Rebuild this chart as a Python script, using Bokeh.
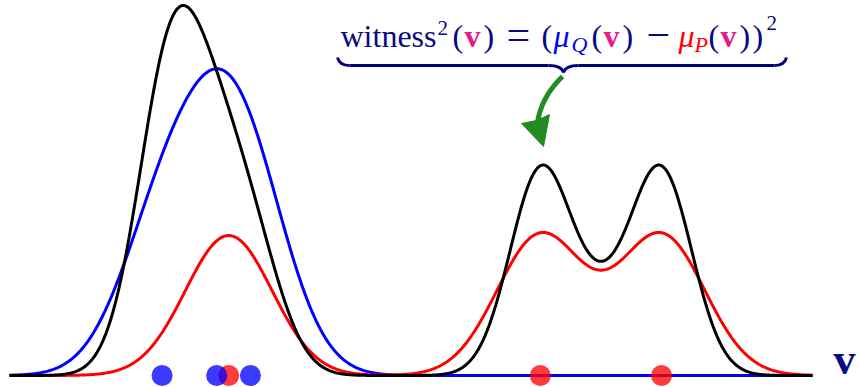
import numpy as np
from bokeh.plotting import figure
from bokeh.models import Range1d, Label
from bokeh.embed import file_html
from bokeh.resources import INLINE

# sample locations on the v axis
q_samples = [1.90, 2.58, 3.00]   # blue sample (Q)
p_samples = [2.73, 6.61, 8.12]   # red sample (P)
bandwidth = 0.54                 # Gaussian kernel width
kernel_height = 1.0              # peak height of one kernel
witness_scale = 1.44             # vertical scale for witness^2
v_min, v_max = 0.0, 10.0

W, H = 859, 387
X0, X1 = -0.112, 10.585
Y0, Y1 = -0.0857, 2.679


def px_x(px):
    return X0 + px / W * (X1 - X0)


def px_y(py):
    return Y1 - py / H * (Y1 - Y0)


def mean_embedding(v, samples):
    v = np.asarray(v)[:, None]
    s = np.asarray(samples)[None, :]
    return kernel_height * np.exp(-(v - s) ** 2 / (2 * bandwidth ** 2)).sum(axis=1)


v = np.linspace(v_min, v_max, 800)
mu_q = mean_embedding(v, q_samples)
mu_p = mean_embedding(v, p_samples)
witness_sq = witness_scale * (mu_q - mu_p) ** 2

p = figure(width=W, height=H, x_range=Range1d(X0, X1), y_range=Range1d(Y0, Y1),
           output_backend="svg", toolbar_location=None, min_border=0,
           x_axis_location=None, y_axis_location=None)
p.grid.visible = False
p.outline_line_color = None
p.background_fill_color = "white"

p.line(v, mu_q, line_color="#0000ff", line_width=3)
p.line(v, mu_p, line_color="#ff0000", line_width=3)
p.line(v, witness_sq, line_color="black", line_width=3)

p.scatter(p_samples, [0] * len(p_samples), size=21, fill_color="#ff0000",
          fill_alpha=0.77, line_color=None)
p.scatter(q_samples, [0] * len(q_samples), size=21, fill_color="#0000ff",
          fill_alpha=0.77, line_color=None)

NAVY = "#0a0a80"
MAG = "#e8198b"
BLUE = "#0000ff"
RED = "#ff0000"
SERIF = "Liberation Serif"


def put_text(txt, x, baseline, size, style, col):
    # the svg text sits about 0.37 em below the requested alphabetic anchor
    p.add_layout(Label(x=px_x(x), y=px_y(baseline - 0.37 * size), text=txt,
                       text_font=SERIF, text_font_style=style,
                       text_font_size=f"{size}px", text_color=col,
                       text_baseline="alphabetic", text_align="left"))


# axis name
put_text("v", 833, 375, 44, "bold", NAVY)

# formula: witness^2(v) = (mu_Q(v) - mu_P(v))^2
formula = [
    ("witness", 340, 47, 32, "normal", NAVY),
    ("2", 437, 35, 21, "normal", NAVY),
    ("(", 452, 47, 32, "normal", NAVY),
    ("v", 464, 47, 32, "bold", MAG),
    (")", 483, 47, 32, "normal", NAVY),
    ("=", 506, 50, 42, "normal", NAVY),
    ("(", 541, 47, 32, "normal", NAVY),
    ("\u03bc", 553, 47, 32, "italic", BLUE),
    ("Q", 571, 52, 22, "italic", BLUE),
    ("(", 591, 47, 32, "normal", NAVY),
    ("v", 603, 47, 32, "bold", MAG),
    (")", 622, 47, 32, "normal", NAVY),
    ("\u2212", 646, 50, 42, "normal", NAVY),
    ("\u03bc", 678, 47, 32, "italic", RED),
    ("P", 694, 52, 22, "italic", RED),
    ("(", 708, 47, 32, "normal", NAVY),
    ("v", 720, 47, 32, "bold", MAG),
    (")", 739, 47, 32, "normal", NAVY),
    (")", 752, 47, 32, "normal", NAVY),
    ("2", 766, 30, 21, "normal", NAVY),
]
for item in formula:
    put_text(*item)

# underbrace below the formula
bl, br, bar, tip_x, tip_y, curl = 337, 786, 65, 563, 72, 57
brace_kw = dict(line_color="#000080", line_width=3)
p.quadratic(x0=[px_x(bl)], y0=[px_y(curl)], x1=[px_x(bl + 12)], y1=[px_y(bar)],
            cx=[px_x(bl + 2)], cy=[px_y(bar)], **brace_kw)
p.segment(x0=[px_x(bl + 12), px_x(tip_x + 15)], y0=[px_y(bar)] * 2,
          x1=[px_x(tip_x - 15), px_x(br - 12)], y1=[px_y(bar)] * 2, **brace_kw)
p.quadratic(x0=[px_x(tip_x - 15)], y0=[px_y(bar)], x1=[px_x(tip_x)], y1=[px_y(tip_y)],
            cx=[px_x(tip_x - 2)], cy=[px_y(bar)], **brace_kw)
p.quadratic(x0=[px_x(tip_x + 15)], y0=[px_y(bar)], x1=[px_x(tip_x)], y1=[px_y(tip_y)],
            cx=[px_x(tip_x + 2)], cy=[px_y(bar)], **brace_kw)
p.quadratic(x0=[px_x(br - 12)], y0=[px_y(bar)], x1=[px_x(br)], y1=[px_y(curl)],
            cx=[px_x(br - 2)], cy=[px_y(bar)], **brace_kw)

# green arrow pointing at the witness peak
GREEN = "#228b22"
p.quadratic(x0=[px_x(562)], y0=[px_y(76)], x1=[px_x(537)], y1=[px_y(122)],
            cx=[px_x(541)], cy=[px_y(96)], line_color=GREEN, line_width=5)
p.patch([px_x(543), px_x(521), px_x(536), px_x(549)],
        [px_y(146), px_y(123), px_y(120), px_y(114)],
        fill_color=GREEN, line_color=GREEN, line_width=1)

open("out.html", "w").write(file_html(p, INLINE))
